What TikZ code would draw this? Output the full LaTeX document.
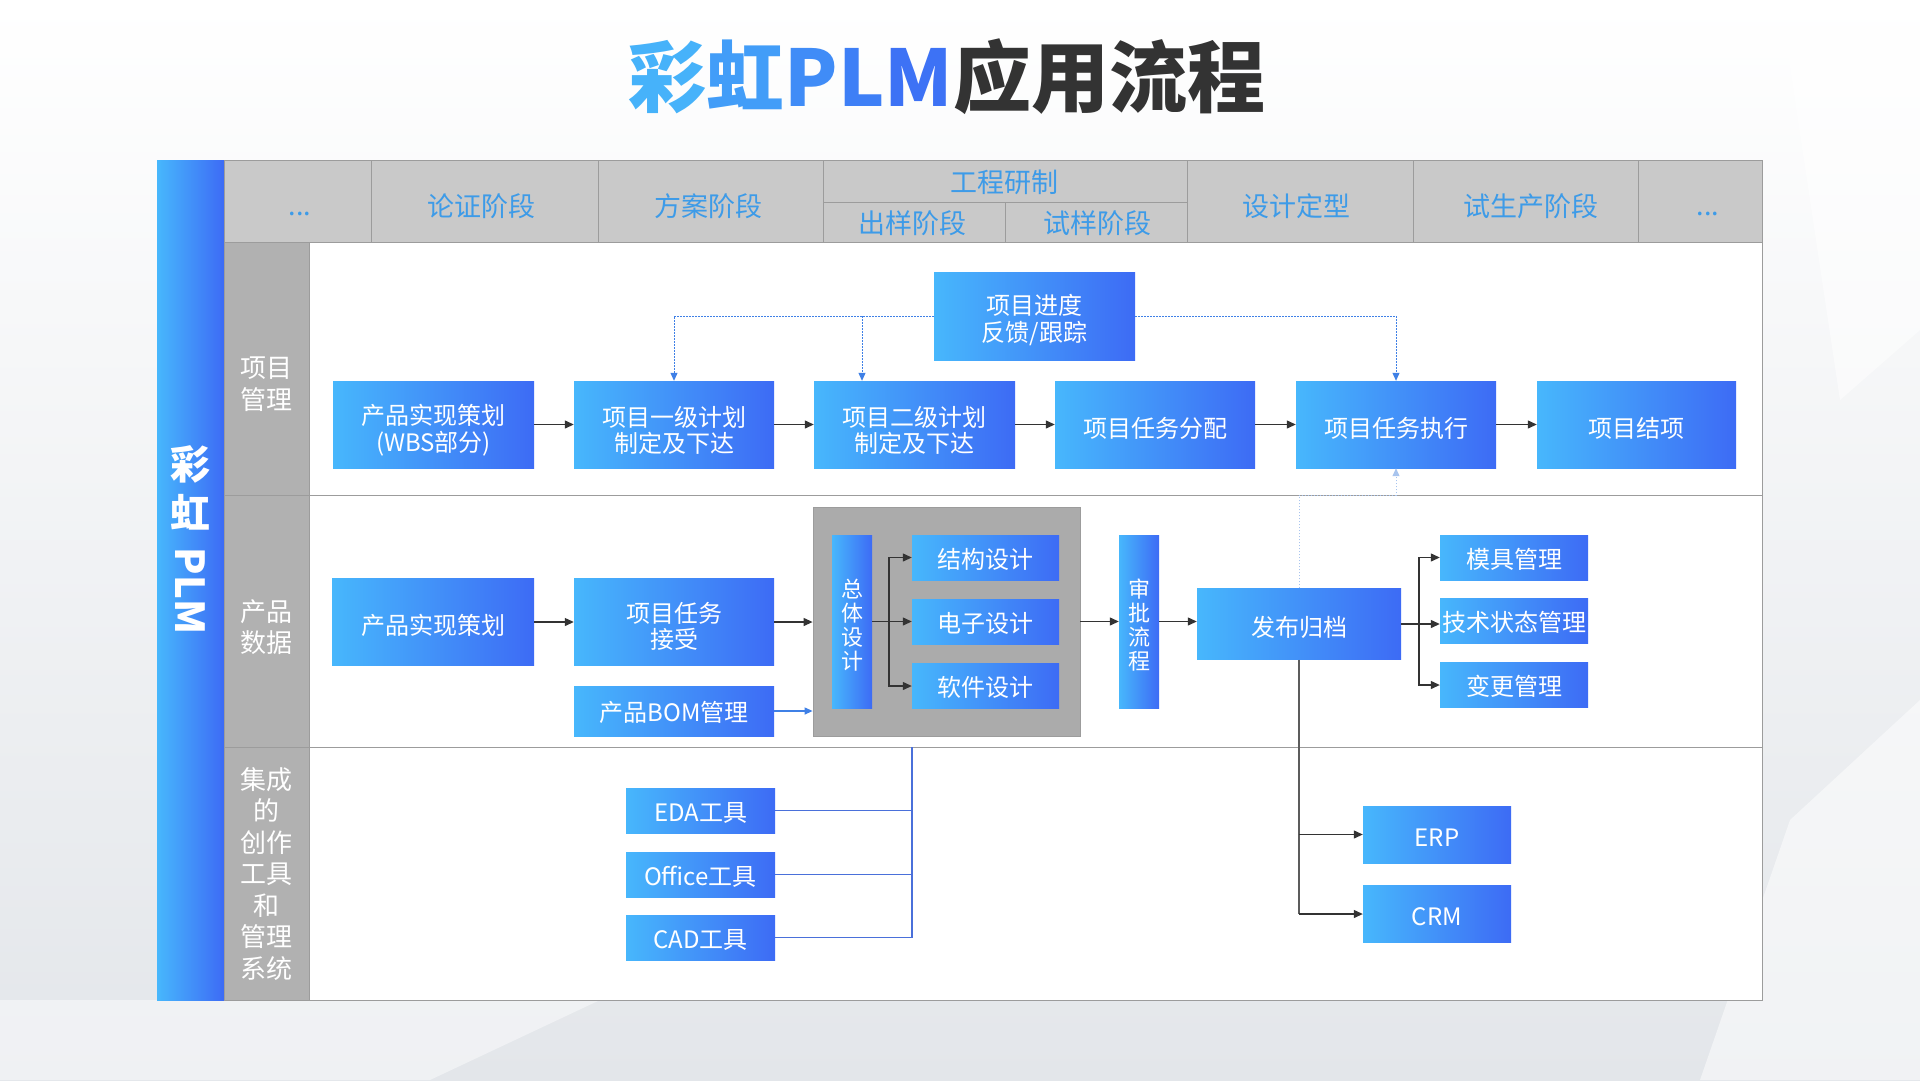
\documentclass[tikz,border=0pt]{standalone}
\usepackage{fontspec}
\setmainfont{Noto Sans CJK SC}
\usetikzlibrary{arrows.meta}
\definecolor{bl1}{HTML}{47B7FC}
\definecolor{bl2}{HTML}{3D6BF5}
\definecolor{hdr}{HTML}{C9C9C9}
\definecolor{lab}{HTML}{B1B1B1}
\definecolor{grp}{HTML}{ABABAB}
\definecolor{lnc}{HTML}{9C9C9C}
\definecolor{htx}{HTML}{3D9BE8}
\definecolor{arrc}{HTML}{333333}
\definecolor{dotc}{HTML}{3F80E6}
\definecolor{dotl}{HTML}{A8C4EE}
\definecolor{tlc}{HTML}{4A70DA}
\definecolor{tA}{HTML}{46B2FA}
\definecolor{tB}{HTML}{429DF8}
\definecolor{tC}{HTML}{408CF7}
\definecolor{tD}{HTML}{3E7FF6}
\definecolor{tE}{HTML}{3D72F5}
\definecolor{tdark}{HTML}{333333}
\definecolor{bgc}{HTML}{E3E6EA}
\newcommand\firstup[1]{\rule{0pt}{#1}}
\begin{document}
\begin{tikzpicture}[x=1pt,y=-1pt,
  bx/.style={left color=bl1, right color=bl2, text=white, align=center, inner sep=0pt,
    font=\fontsize{24}{26.5}\selectfont},
  bxs/.style={bx, execute at begin node={\rule{0pt}{23pt}}},
  bxl/.style={bx, execute at begin node={\rule{0pt}{27pt}}},
  vbx/.style={bx, minimum width=40pt, minimum height=173pt, font=\fontsize{22}{24}\selectfont},
  htext/.style={text=htx, font=\fontsize{27}{30}\selectfont, inner sep=0pt},
  ltext/.style={text=white, align=center, font=\fontsize{26}{31.5}\selectfont, inner sep=0pt},
  arr/.style={draw=arrc, line width=1.2pt, -{Triangle[length=9pt,width=8pt]}},
  ln/.style={draw=arrc!80, line width=1.2pt},
  dotarr/.style={draw=dotc, line width=1pt, dash pattern=on 1.5pt off 1.5pt, -{Triangle[length=8pt,width=7pt]}},
  dotarrl/.style={draw=dotl, line width=1pt, dash pattern=on 1.5pt off 1.5pt, -{Triangle[length=8pt,width=7pt]}},
  bluearr/.style={draw=dotc, line width=1.2pt, -{Triangle[length=8pt,width=7pt]}},
  tl/.style={draw=tlc, line width=1.2pt},
  sep/.style={draw=lnc, line width=1pt}
]
% background
\fill[top color=white, bottom color=bgc] (0,0) rectangle (1920,1080);
\fill[white, opacity=0.55] (1780,0) -- (1920,0) -- (1920,330) -- (1840,400) -- cycle;
\fill[white, opacity=0.5] (1790,820) -- (1920,700) -- (1920,1080) -- (1700,1080) -- cycle;
\fill[white, opacity=0.45] (0,1000) -- (600,1000) -- (430,1080) -- (0,1080) -- cycle;
\useasboundingbox (0,0) rectangle (1920,1080);

% title
\node (title) at (947,77) {\fontsize{78}{90}\selectfont\bfseries
  \textcolor{tA}{彩}\textcolor{tB}{虹}\textcolor{tC}{P}\textcolor{tD}{L}\textcolor{tE}{M}\textcolor{tdark}{应用流程}};

% left bar
\node[left color=bl1, right color=bl2, minimum width=67pt, minimum height=840pt, inner sep=0pt] (bar) at (190.5,580) {};
\node[text=white, align=center, font=\fontsize{40}{49}\selectfont\bfseries, inner sep=0pt] (barA) at (190,488) {彩\\虹};
\node[text=white, rotate=-90, font=\fontsize{40}{48}\selectfont\bfseries, inner sep=0pt] (barB) at (190,591) {PLM};

% table body
\fill[white] (309,242) rectangle (1762,1000);
\fill[hdr] (224,160) rectangle (1762,242);
\fill[lab] (224,242) rectangle (309,1000);
\draw[sep] (224,160) rectangle (1762,1000);
\draw[sep] (224,242) -- (1762,242);
\draw[sep] (224,495) -- (1762,495);
\draw[sep] (224,747) -- (1762,747);
\draw[sep] (309,242) -- (309,1000);
\foreach \xx in {371,598,823,1187,1413,1638} {\draw[sep] (\xx,160) -- (\xx,242);}
\draw[sep] (823,202) -- (1187,202);
\draw[sep] (1005,202) -- (1005,242);

% header texts
\node[htext] (h0) at (300,214) {...};
\node[htext] (h1) at (481,206) {论证阶段};
\node[htext] (h2) at (708,206) {方案阶段};
\node[htext] (h3) at (1004,182) {工程研制};
\node[htext] (h3a) at (912,223) {出样阶段};
\node[htext] (h3b) at (1097,223) {试样阶段};
\node[htext] (h4) at (1296,206) {设计定型};
\node[htext] (h5) at (1531,206) {试生产阶段};
\node[htext] (h6) at (1708,214) {...};

% row labels
\node[ltext] (r1) at (266,384) {项目\\管理};
\node[ltext] (r2) at (266,627) {产品\\数据};
\node[ltext] (r3) at (266,874) {集成\\的\\创作\\工具\\和\\管理\\系统};

% row 1
\node[bx, minimum width=201pt, minimum height=87pt] (p1) at (433.5,424.5) {\firstup{32pt}产品实现策划\\(WBS部分)};
\node[bx, minimum width=200pt, minimum height=87pt] (p2) at (674,424.5) {\firstup{32pt}项目一级计划\\制定及下达};
\node[bx, minimum width=201pt, minimum height=87pt] (p3) at (914.5,424.5) {\firstup{32pt}项目二级计划\\制定及下达};
\node[bxl, minimum width=200pt, minimum height=87pt] (p4) at (1155,424.5) {项目任务分配};
\node[bxl, minimum width=200pt, minimum height=87pt] (p5) at (1396,424.5) {项目任务执行};
\node[bxl, minimum width=199pt, minimum height=87pt] (p6) at (1636.5,424.5) {项目结项};
\node[bx, minimum width=201pt, minimum height=88pt] (pr) at (1034.5,316) {\firstup{28.5pt}项目进度\\反馈/跟踪};

\draw[arr] (p1) -- (p2);
\draw[arr] (p2) -- (p3);
\draw[arr] (p3) -- (p4);
\draw[arr] (p4) -- (p5);
\draw[arr] (p5) -- (p6);

\coordinate (b3) at (862,316);
\draw[dotarr] (pr.west) -| (p2.north);
\draw[dotarr] (b3) -- (b3 |- p3.north);
\draw[dotarr] (pr.east) -| (p5.north);

% row 2
\node[fill=grp, draw=lnc, line width=0.8pt, minimum width=267pt, minimum height=229pt, inner sep=0pt] (grp) at (946.5,621.5) {};
\node[bxl, minimum width=202pt, minimum height=87pt] (q1) at (433,622) {产品实现策划};
\node[bx, minimum width=200pt, minimum height=87pt] (q2) at (674,622) {\firstup{28.5pt}项目任务\\接受};
\node[bxs, minimum width=200pt, minimum height=50pt] (bom) at (674,711) {产品BOM管理};
\node[vbx] (zt) at (852,621.5) {\firstup{26pt}总\\体\\设\\计};
\node[bxs, minimum width=147pt, minimum height=45pt] (jg) at (985.5,557.5) {结构设计};
\node[bxs, minimum width=147pt, minimum height=45pt] (dz) at (985.5,622) {电子设计};
\node[bxs, minimum width=147pt, minimum height=45pt] (rj) at (985.5,686) {软件设计};
\node[vbx] (sp) at (1139,621.5) {\firstup{26pt}审\\批\\流\\程};
\node[bxl, minimum width=204pt, minimum height=71pt] (fb) at (1299,624) {发布归档};
\node[bxs, minimum width=148pt, minimum height=45pt] (mj) at (1514,557.5) {模具管理};
\node[bxs, minimum width=148pt, minimum height=45pt] (js) at (1514,621) {技术状态管理};
\node[bxs, minimum width=148pt, minimum height=45pt] (bg) at (1514,685) {变更管理};

\draw[arr] (q1) -- (q2);
\draw[arr] (q2.east) -- (q2.east -| grp.west);
\draw[bluearr] (bom.east) -- (bom.east -| grp.west);
\draw[arr] (zt.east) -- (zt.east -| dz.west);
\coordinate (zb) at (889,622);
\draw[arr] (zb) |- (jg.west);
\draw[arr] (zb) |- (rj.west);
\draw[arr] (grp.east) -- (grp.east -| sp.west);
\draw[arr] (sp.east) -- (sp.east -| fb.west);
\draw[arr] (fb.east) -- (fb.east -| js.west);
\coordinate (fj) at (1419,624);
\draw[arr] (fj) |- (mj.west);
\draw[arr] (fj) |- (bg.west);

\coordinate (dj) at (1299,495);
\draw[dotarrl] (fb.north) -- (dj) -| (p5.south);

% row 3
\node[bxs, minimum width=149pt, minimum height=45pt] (eda) at (700.5,810.5) {EDA工具};
\node[bxs, minimum width=149pt, minimum height=45pt] (off) at (700.5,874.5) {Office工具};
\node[bxs, minimum width=149pt, minimum height=45pt] (cad) at (700.5,937.5) {CAD工具};
\node[bxs, minimum width=148pt, minimum height=57pt] (erp) at (1437,834.5) {ERP};
\node[bxs, minimum width=148pt, minimum height=57pt] (crm) at (1437,914) {CRM};

\coordinate (tv) at (912,747);
\draw[tl] (tv) |- (cad.east);
\draw[tl] (eda.east) -- (eda.east -| tv);
\draw[tl] (off.east) -- (off.east -| tv);

\draw[ln] (fb.south) -- (fb.south |- crm.west);
\draw[arr] (fb.south |- erp.west) -- (erp.west);
\draw[arr] (fb.south |- crm.west) -- (crm.west);
\end{tikzpicture}
\end{document}
